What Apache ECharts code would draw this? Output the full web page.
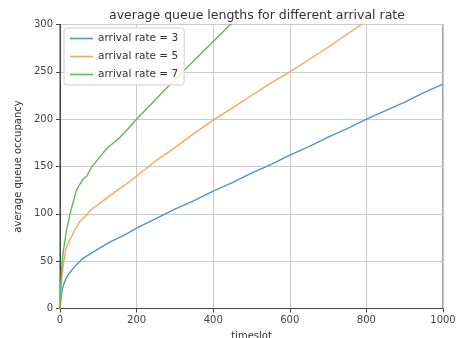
<!DOCTYPE html>
<html>
<head>
<meta charset="utf-8">
<script src="https://cdn.jsdelivr.net/npm/echarts@6/dist/echarts.min.js"></script>
<style>
  html, body { margin: 0; padding: 0; background: #fff; }
  #chart { width: 459px; height: 338px; }
</style>
</head>
<body>
<div id="chart"></div>
<script>
// Average queue occupancy over time, one curve per arrival rate
const seriesNames = ['arrival rate = 3', 'arrival rate = 5', 'arrival rate = 7'];

const rate3 = [
  [0, 0], [3, 12], [6, 20], [10, 26], [15, 31], [20, 35], [30, 40], [40, 45], [50, 49],
  [60, 53], [80, 58], [100, 63], [125, 69], [150, 74], [175, 79], [200, 85],
  [250, 95], [300, 105], [350, 114], [400, 124], [450, 133], [500, 143],
  [550, 152], [600, 162], [650, 171], [700, 181], [750, 190], [800, 200],
  [850, 209], [900, 218], [950, 228], [1000, 237]
];

const rate5 = [
  [0, 0], [3, 25], [6, 38], [10, 50], [15, 62], [20, 68], [30, 76], [40, 84], [50, 91],
  [60, 95], [70, 99], [80, 104], [100, 110], [120, 116], [150, 125], [175, 132],
  [200, 140], [250, 156], [300, 170], [350, 185], [400, 199], [450, 212],
  [500, 225], [550, 238], [600, 250], [650, 263], [700, 276], [750, 290],
  [790, 301], [800, 304]
];

const rate7 = [
  [0, 0], [2, 25], [4, 40], [7, 55], [10, 64], [13, 72], [17, 83], [20, 88], [26, 100],
  [30, 106], [35, 113], [43, 125], [50, 130], [61, 137], [70, 140], [83, 150],
  [90, 153], [100, 158], [122, 169], [140, 175], [157, 181], [180, 191],
  [200, 200], [250, 221], [300, 242], [350, 262], [400, 282], [445, 300], [460, 306]
];

const xTicks = [0, 200, 400, 600, 800, 1000];
const yTicks = [0, 50, 100, 150, 200, 250, 300];

const colors = ['#4f95cc', '#ffa55c', '#5cb85c'];
const font = 'DejaVu Sans';

const chart = echarts.init(document.getElementById('chart'), null, { renderer: 'canvas' });

const axisCommon = {
  axisLine: { show: true, onZero: false, lineStyle: { color: '#444', width: 1 } },
  axisTick: { show: true, length: 4, inside: false, lineStyle: { color: '#444' } },
  splitLine: { show: true, lineStyle: { color: '#cbcbcb', width: 1 } },
  axisLabel: { color: '#444', fontFamily: font, fontSize: 10, formatter: v => String(v) }
};

chart.setOption({
  animation: false,
  backgroundColor: '#fff',
  color: colors,
  title: {
    text: 'average queue lengths for different arrival rate',
    left: 252, top: 4, textAlign: 'center',
    textStyle: { fontFamily: font, fontSize: 12.5, fontWeight: 'normal', color: '#333' }
  },
  legend: {
    data: seriesNames,
    orient: 'vertical',
    left: 64, top: 28,
    icon: 'rect',
    itemWidth: 23, itemHeight: 1.6,
    itemGap: 7,
    padding: [5, 6, 5, 6],
    backgroundColor: 'rgba(255,255,255,0.85)',
    borderColor: '#d0d0d0', borderWidth: 1, borderRadius: 3,
    textStyle: { fontFamily: font, fontSize: 10.5, color: '#333' }
  },
  grid: { left: 60, right: 16, top: 24.5, bottom: 29.5, containLabel: false,
          outerBoundsMode: 'none',
          show: true, borderColor: '#444', borderWidth: 1 },
  xAxis: Object.assign({}, axisCommon, {
    type: 'value', min: xTicks[0], max: xTicks[xTicks.length - 1], interval: 200,
    axisLabel: Object.assign({}, axisCommon.axisLabel, { margin: 7 }),
    name: 'timeslot', nameLocation: 'middle', nameGap: 23,
    nameTextStyle: { fontFamily: font, fontSize: 10, color: '#333' }
  }),
  yAxis: Object.assign({}, axisCommon, {
    type: 'value', min: yTicks[0], max: yTicks[yTicks.length - 1], interval: 50,
    axisLabel: Object.assign({}, axisCommon.axisLabel, { margin: 7 }),
    name: 'average queue occupancy', nameLocation: 'middle', nameGap: 35,
    nameTextStyle: { fontFamily: font, fontSize: 10, color: '#333' }
  }),
  series: [rate3, rate5, rate7].map((d, i) => ({
    name: seriesNames[i],
    type: 'line',
    data: d,
    showSymbol: false,
    clip: true,
    smooth: false,
    lineStyle: { width: 1.4, color: colors[i] },
    itemStyle: { color: colors[i] }
  }))
});
</script>
</body>
</html>
